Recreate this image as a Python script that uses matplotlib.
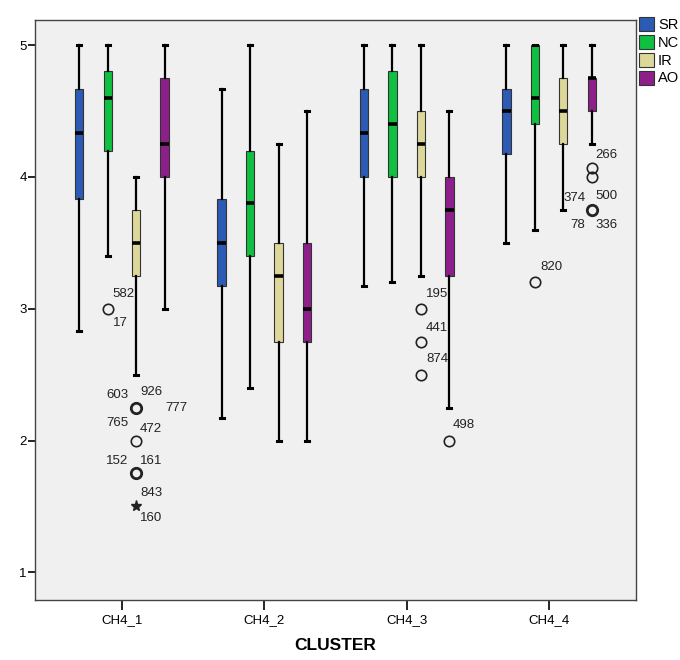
import matplotlib
matplotlib.use("Agg")
import matplotlib.pyplot as plt
from matplotlib.patches import Patch
import numpy as np

plt.rcParams['font.family'] = ['Liberation Sans', 'DejaVu Sans']

clusters = ["CH4_1", "CH4_2", "CH4_3", "CH4_4"]
series = ["SR", "NC", "IR", "AO"]
colors = ["#2b5bb5", "#10c040", "#ddd89a", "#8e1f8a"]

# five-number summaries per series, one value per cluster
whislo = {"SR": [2.83, 2.17, 3.17, 3.50],
          "NC": [3.40, 2.40, 3.20, 3.60],
          "IR": [2.50, 2.00, 3.25, 3.75],
          "AO": [3.00, 2.00, 2.25, 4.25]}
q1 = {"SR": [3.83, 3.17, 4.00, 4.17],
      "NC": [4.20, 3.40, 4.00, 4.40],
      "IR": [3.25, 2.75, 4.00, 4.25],
      "AO": [4.00, 2.75, 3.25, 4.50]}
med = {"SR": [4.33, 3.50, 4.33, 4.50],
       "NC": [4.60, 3.80, 4.40, 4.60],
       "IR": [3.50, 3.25, 4.25, 4.50],
       "AO": [4.25, 3.00, 3.75, 4.75]}
q3 = {"SR": [4.67, 3.83, 4.67, 4.67],
      "NC": [4.80, 4.20, 4.80, 5.00],
      "IR": [3.75, 3.50, 4.50, 4.75],
      "AO": [4.75, 3.50, 4.00, 4.75]}
whishi = {"SR": [5.00, 4.67, 5.00, 5.00],
          "NC": [5.00, 5.00, 5.00, 5.00],
          "IR": [4.00, 4.25, 5.00, 5.00],
          "AO": [5.00, 4.50, 4.50, 5.00]}

# outliers: (cluster index, series, value, kind, heavy)
outliers = [
    (0, "NC", 3.00, "o", False),
    (0, "IR", 2.25, "o", True),
    (0, "IR", 2.00, "o", False),
    (0, "IR", 1.75, "o", True),
    (0, "IR", 1.50, "*", False),
    (2, "IR", 3.00, "o", False),
    (2, "IR", 2.75, "o", False),
    (2, "IR", 2.50, "o", False),
    (2, "AO", 2.00, "o", False),
    (3, "NC", 3.20, "o", False),
    (3, "AO", 4.07, "o", False),
    (3, "AO", 4.00, "o", False),
    (3, "AO", 3.75, "o", True),
]

# case labels: (cluster index, series, value, text)
case_labels = [
    (0, "NC", 3.00, "582"), (0, "NC", 3.00, "17"),
    (0, "IR", 2.25, "603"), (0, "IR", 2.25, "926"), (0, "IR", 2.25, "777"),
    (0, "IR", 2.25, "765"), (0, "IR", 2.25, "472"),
    (0, "IR", 2.00, "152"), (0, "IR", 2.00, "161"),
    (0, "IR", 1.75, "843"), (0, "IR", 1.50, "160"),
    (2, "IR", 3.00, "195"), (2, "IR", 2.75, "441"), (2, "IR", 2.50, "874"),
    (2, "AO", 2.00, "498"),
    (3, "NC", 3.20, "820"),
    (3, "AO", 4.07, "266"), (3, "AO", 3.75, "374"), (3, "AO", 3.75, "500"),
    (3, "AO", 3.75, "78"), (3, "AO", 3.75, "336"),
]
# label offsets in pixels from the point
label_offsets = {"582": (16, 15), "17": (13, -14), "603": (-19, 13), "926": (15, 16),
                 "777": (40, 0), "765": (-19, -15), "472": (15, -21), "152": (-19, -20),
                 "161": (15, -20), "843": (15, -20), "160": (15, -12), "195": (16, 15),
                 "441": (16, 14), "874": (16, 16), "498": (14, 16), "820": (17, 15),
                 "266": (15, 13), "374": (-17, 12), "500": (15, 14), "78": (-14, -15),
                 "336": (15, -15)}

offsets = {"SR": -0.3, "NC": -0.1, "IR": 0.1, "AO": 0.3}

fig = plt.figure(figsize=(6.8, 6.6), dpi=100)
ax = fig.add_axes([35/680, 60/660, 601/680, 580/660])
ax.set_facecolor("#f0f0f0")

for s, c in zip(series, colors):
    stats = []
    for i in range(len(clusters)):
        stats.append(dict(whislo=whislo[s][i], q1=q1[s][i], med=med[s][i],
                          q3=q3[s][i], whishi=whishi[s][i], fliers=[]))
    pos = np.arange(len(clusters)) + offsets[s]
    ax.bxp(stats, positions=pos, widths=0.058, patch_artist=True, showfliers=False,
           capwidths=0.028,
           boxprops=dict(facecolor=c, edgecolor="#333333", linewidth=0.8),
           medianprops=dict(color="black", linewidth=2.6, solid_capstyle="butt"),
           whiskerprops=dict(color="black", linewidth=1.6),
           capprops=dict(color="black", linewidth=2.2),
           manage_ticks=False, zorder=3)

for gi, s, v, kind, heavy in outliers:
    x = gi + offsets[s]
    if kind == "*":
        ax.plot(x, v, marker="*", color="#222222", markersize=8, zorder=4)
    else:
        ax.plot(x, v, marker="o", mfc="none", mec="#222222", markersize=7.5,
                mew=2.0 if heavy else 1.2, zorder=4)

for gi, s, v, txt in case_labels:
    dx, dy = label_offsets[txt]
    ax.annotate(txt, (gi + offsets[s], v), xytext=(dx, dy), textcoords="offset pixels",
                ha="center", va="center", fontsize=9.5, color="#222222")

ax.set_xlim(-0.61, 3.61)
ax.set_ylim(0.79, 5.19)
ax.set_xticks(range(len(clusters)))
ax.set_xticklabels(clusters, fontsize=9.5)
ax.set_yticks([1, 2, 3, 4, 5])
ax.tick_params(axis="y", length=5, width=1.2, labelsize=9.5, pad=1)
ax.tick_params(axis="x", length=7, width=1.2, pad=3)
for sp in ax.spines.values():
    sp.set_color("#444444")
    sp.set_linewidth(1.0)
ax.set_xlabel("CLUSTER", fontsize=12.5, fontweight="bold", labelpad=9)

handles = [Patch(facecolor=c, edgecolor="#333333", linewidth=0.8) for c in colors]
fig.legend(handles, series, loc="upper left", bbox_to_anchor=(636/680, 1 - 14/660),
           frameon=False, fontsize=10.5, handlelength=1.0, handleheight=1.1,
           handletextpad=0.3, labelspacing=0.2, borderaxespad=0, borderpad=0.2)

fig.savefig("out.png", dpi=100)
